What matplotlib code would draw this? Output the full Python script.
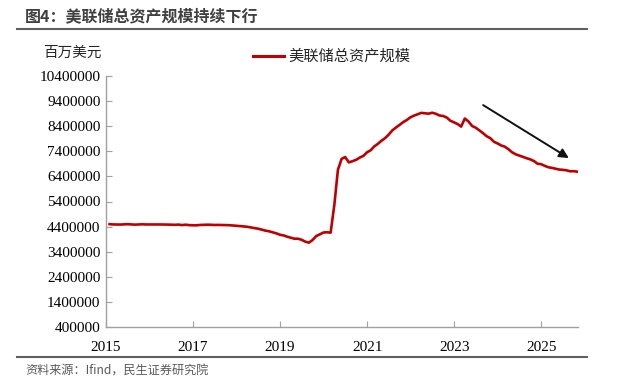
import matplotlib
matplotlib.use("Agg")
import matplotlib.pyplot as plt
from matplotlib.lines import Line2D
import pandas as pd

# Fed total assets, millions of USD, month-end values
assets = [
    # 2015
    4497000, 4486000, 4484000, 4481000, 4490000, 4496000, 4487000, 4478000, 4484000, 4491000, 4485000, 4486000,
    # 2016
    4488000, 4487000, 4485000, 4483000, 4480000, 4477000, 4471000, 4480000, 4461000, 4476000, 4458000, 4451000,
    # 2017
    4451000, 4465000, 4469000, 4475000, 4472000, 4464000, 4467000, 4463000, 4461000, 4456000, 4445000, 4438000,
    # 2018
    4420000, 4407000, 4393000, 4365000, 4340000, 4317000, 4280000, 4240000, 4214000, 4172000, 4131000, 4075000,
    # 2019
    4048000, 4000000, 3956000, 3918000, 3918000, 3876000, 3801000, 3760000, 3864000, 4023000, 4090000, 4165000,
    # 2020
    4174000, 4158000, 5254000, 6656000, 7097000, 7172000, 6959000, 7006000, 7061000, 7150000, 7217000, 7362000,
    # 2021
    7443000, 7590000, 7695000, 7819000, 7924000, 8063000, 8233000, 8349000, 8453000, 8566000, 8649000, 8757000,
    # 2022
    8824000, 8876000, 8931000, 8914000, 8898000, 8937000, 8895000, 8826000, 8808000, 8743000, 8619000, 8551000,
    # 2023
    8483000, 8384000, 8705000, 8593000, 8410000, 8342000, 8236000, 8122000, 8003000, 7923000, 7780000, 7713000,
    # 2024
    7631000, 7585000, 7485000, 7363000, 7280000, 7232000, 7178000, 7124000, 7080000, 7013000, 6905000, 6886000,
    # 2025
    6818000, 6766000, 6740000, 6709000, 6673000, 6662000, 6643000, 6603000, 6608000, 6587000,
]
dates = pd.date_range("2015-01-31", periods=len(assets), freq="ME")

years = [2015, 2017, 2019, 2021, 2023, 2025]
yticks = list(range(400000, 10400001, 1000000))

title = "图4：美联储总资产规模持续下行"
series_name = "美联储总资产规模"
unit = "百万美元"
source = "资料来源：Ifind，民生证券研究院"

cjk = ["Noto Sans CJK SC", "DejaVu Sans"]
serif = "Liberation Serif"

fig = plt.figure(figsize=(6.31, 3.86), dpi=100)
ax = fig.add_axes([106 / 631, 1 - 327 / 386, (578 - 106) / 631, (327 - 76) / 386])

ax.plot(dates, assets, color="#C00000", lw=1.9)

ax.set_xlim(pd.Timestamp("2015-01-01"), pd.Timestamp("2025-11-05"))
ax.set_ylim(400000, 10400000)
ax.set_yticks(yticks)
ax.set_yticklabels([str(v) for v in yticks], fontfamily=serif, fontsize=11)
ax.set_xticks([pd.Timestamp(f"{y}-01-01") for y in years])
ax.set_xticklabels([str(y) for y in years], fontfamily=serif, fontsize=11)
ax.tick_params(direction="in", length=4, color="#A0A0A0")
ax.tick_params(axis="x", pad=10)
ax.tick_params(axis="y", pad=4)

for s in ["top", "right"]:
    ax.spines[s].set_visible(False)
for s in ["left", "bottom"]:
    ax.spines[s].set_color("#A0A0A0")
    ax.spines[s].set_linewidth(1.0)

# arrow showing the trend
ax.annotate("", xy=(pd.Timestamp("2025-08-20"), 7130000),
            xytext=(pd.Timestamp("2023-09-01"), 9240000),
            arrowprops=dict(arrowstyle="-|>", color="#111111", lw=1.4,
                            mutation_scale=14, shrinkA=0, shrinkB=0))

# legend drawn by hand at top
fig.add_artist(Line2D([253 / 631, 284 / 631], [1 - 56 / 386, 1 - 56 / 386],
                      color="#C00000", lw=2.2))
fig.text(288 / 631, 1 - 56 / 386, series_name, fontfamily=cjk, fontsize=11,
         color="#262626", va="center", ha="left")

fig.text(102 / 631, 1 - 53 / 386, unit, fontfamily=cjk, fontsize=10.5,
         color="#262626", va="center", ha="right")

fig.text(25 / 631, 1 - 16 / 386, title, fontfamily=cjk, fontsize=11.5,
         fontweight="bold", color="#404040", va="center", ha="left")
fig.add_artist(Line2D([17 / 631, 587 / 631], [1 - 29 / 386, 1 - 29 / 386],
                      color="#606060", lw=1.5))
fig.add_artist(Line2D([17 / 631, 587 / 631], [1 - 357 / 386, 1 - 357 / 386],
                      color="#606060", lw=1.5))
fig.text(25 / 631, 1 - 371 / 386, source, fontfamily=cjk, fontsize=8.7,
         color="#595959", va="center", ha="left")

fig.savefig("out.png", dpi=100)
